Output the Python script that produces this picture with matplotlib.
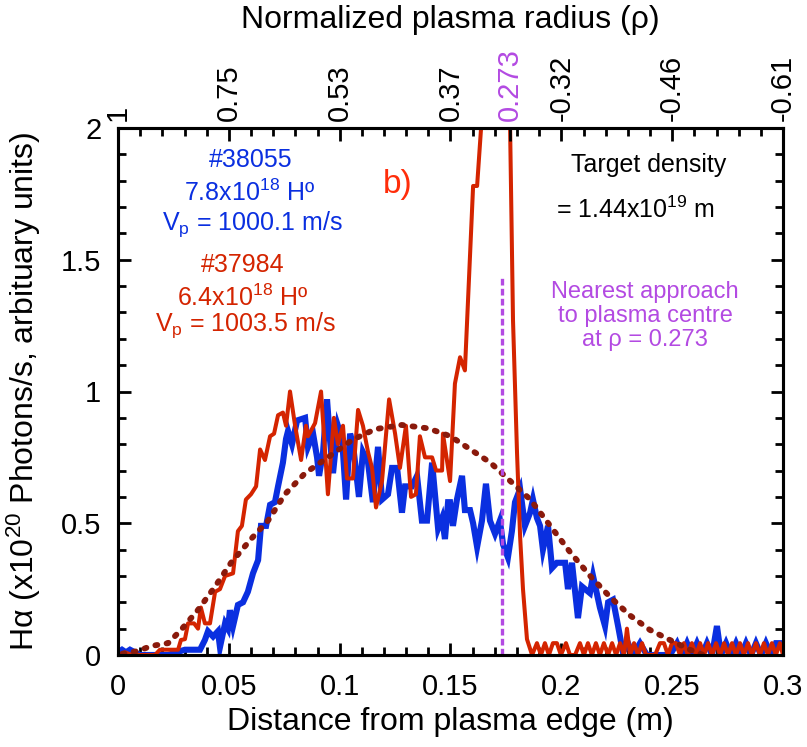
import matplotlib
matplotlib.use('Agg')
import matplotlib.pyplot as plt
from matplotlib.ticker import MultipleLocator, FixedLocator

plt.rcParams['font.family'] = ['Liberation Sans', 'DejaVu Sans']
plt.rcParams['mathtext.fontset'] = 'custom'
plt.rcParams['mathtext.rm'] = 'Liberation Sans'
plt.rcParams['mathtext.it'] = 'Liberation Sans:italic'
plt.rcParams['mathtext.bf'] = 'Liberation Sans:bold'

# ---------------- data ----------------
blue_points = [
    (0.0000, 0.01), (0.0018, 0.02), (0.0036, 0.01), (0.0054, 0.02), (0.0077, 0.01), (0.0099, 0.00),
    (0.0144, 0.00), (0.0189, 0.00), (0.0226, 0.00), (0.0262, 0.01), (0.0302, 0.02), (0.0347, 0.02),
    (0.0370, 0.02), (0.0392, 0.057), (0.0406, 0.09), (0.0429, 0.07), (0.0451, 0.09), (0.0460, 0.03),
    (0.0483, 0.12), (0.0496, 0.10), (0.0505, 0.17), (0.0519, 0.11), (0.0541, 0.19), (0.0564, 0.20),
    (0.0586, 0.24), (0.0609, 0.31), (0.0632, 0.36), (0.0645, 0.49), (0.0668, 0.49), (0.0686, 0.57),
    (0.0708, 0.58), (0.0722, 0.64), (0.0744, 0.73), (0.0758, 0.82), (0.0767, 0.85), (0.0785, 0.80),
    (0.0808, 0.89), (0.0844, 0.90), (0.0857, 0.79), (0.0880, 0.84), (0.0898, 0.75), (0.0907, 0.68),
    (0.0925, 0.77), (0.0943, 0.97), (0.0956, 0.82), (0.0970, 0.69), (0.0992, 0.87), (0.1011, 0.82),
    (0.1029, 0.59), (0.1047, 0.84), (0.1060, 0.80), (0.1087, 0.60), (0.1105, 0.77), (0.1128, 0.73),
    (0.1150, 0.58), (0.1173, 0.79), (0.1191, 0.59), (0.1218, 0.61), (0.1236, 0.71), (0.1259, 0.71),
    (0.1281, 0.54), (0.1295, 0.64), (0.1326, 0.64), (0.1349, 0.68), (0.1371, 0.51), (0.1394, 0.51),
    (0.1417, 0.73), (0.1444, 0.48), (0.1462, 0.52), (0.1475, 0.44), (0.1489, 0.58), (0.1498, 0.58),
    (0.1511, 0.49), (0.1529, 0.59), (0.1552, 0.68), (0.1565, 0.55), (0.1588, 0.55), (0.1602, 0.50),
    (0.1620, 0.41), (0.1642, 0.51), (0.1660, 0.65), (0.1678, 0.51), (0.1701, 0.46), (0.1723, 0.51),
    (0.1737, 0.42), (0.1759, 0.37), (0.1777, 0.47), (0.1791, 0.58), (0.1814, 0.63), (0.1836, 0.49),
    (0.1859, 0.54), (0.1872, 0.59), (0.1890, 0.52), (0.1904, 0.49), (0.1917, 0.40), (0.1940, 0.49),
    (0.1958, 0.33), (0.1980, 0.35), (0.2017, 0.35), (0.2030, 0.25), (0.2048, 0.35), (0.2075, 0.14),
    (0.2093, 0.26), (0.2129, 0.235), (0.2143, 0.30), (0.2174, 0.18), (0.2197, 0.11), (0.2211, 0.20),
    (0.2233, 0.21), (0.2256, 0.11), (0.2278, 0.01), (0.2301, 0.045), (0.2323, 0.00), (0.2355, 0.045),
    (0.2386, 0.00), (0.2445, 0.00), (0.2490, 0.00), (0.2522, 0.045), (0.2544, 0.00), (0.2567, 0.045),
    (0.2589, 0.00), (0.2612, 0.045), (0.2635, 0.00), (0.2657, 0.045), (0.2680, 0.00), (0.2702, 0.11),
    (0.2720, 0.00), (0.2743, 0.045), (0.2765, 0.00), (0.2788, 0.045), (0.2811, 0.00), (0.2833, 0.045),
    (0.2856, 0.00), (0.2878, 0.045), (0.2901, 0.00), (0.2923, 0.045), (0.2946, 0.00), (0.2968, 0.045),
    (0.2991, 0.045),
]

red_points = [
    (0.0000, 0.00), (0.0032, 0.01), (0.0063, 0.00), (0.0099, 0.00), (0.0135, 0.00), (0.0167, 0.00),
    (0.0189, 0.02), (0.0235, 0.02), (0.0271, 0.02), (0.0284, 0.057), (0.0302, 0.06), (0.0316, 0.12),
    (0.0343, 0.12), (0.0361, 0.10), (0.0374, 0.18), (0.0392, 0.12), (0.0415, 0.12), (0.0438, 0.24),
    (0.0460, 0.25), (0.0483, 0.30), (0.0519, 0.31), (0.0541, 0.47), (0.0559, 0.49), (0.0577, 0.59),
    (0.0600, 0.61), (0.0623, 0.64), (0.0641, 0.78), (0.0663, 0.74), (0.0686, 0.83), (0.0704, 0.84),
    (0.0722, 0.91), (0.0744, 0.92), (0.0758, 0.87), (0.0776, 1.00), (0.0799, 0.87), (0.0826, 0.74),
    (0.0848, 0.87), (0.0857, 0.83), (0.0889, 0.88), (0.0916, 1.00), (0.0947, 0.61), (0.0974, 0.90),
    (0.0992, 0.80), (0.1015, 0.87), (0.1033, 0.67), (0.1060, 0.67), (0.1083, 0.93), (0.1105, 0.87),
    (0.1128, 0.77), (0.1146, 0.71), (0.1164, 0.56), (0.1191, 0.66), (0.1223, 0.97), (0.1250, 0.84),
    (0.1272, 0.71), (0.1299, 0.87), (0.1322, 0.60), (0.1344, 0.61), (0.1362, 0.83), (0.1385, 0.75),
    (0.1417, 0.75), (0.1435, 0.70), (0.1462, 0.70), (0.1466, 0.84), (0.1498, 0.66), (0.1520, 1.03),
    (0.1543, 1.13), (0.1565, 1.08), (0.1597, 1.69), (0.1602, 1.78), (0.1620, 1.78), (0.1642, 2.05),
    (0.1670, 2.60), (0.1705, 2.90), (0.1745, 2.70), (0.1768, 2.05), (0.1782, 1.27), (0.1800, 0.77),
    (0.1814, 0.45), (0.1827, 0.25), (0.1845, 0.06), (0.1868, 0.00),
    (0.1890, 0.045), (0.1908, 0.00), (0.1926, 0.045), (0.1944, 0.00), (0.1962, 0.045), (0.1980, 0.045),
    (0.1998, 0.00), (0.2021, 0.045), (0.2039, 0.00), (0.2062, 0.00), (0.2084, 0.045), (0.2102, 0.00),
    (0.2120, 0.045), (0.2138, 0.00), (0.2156, 0.045), (0.2174, 0.00), (0.2192, 0.045), (0.2211, 0.00),
    (0.2229, 0.045), (0.2247, 0.00), (0.2265, 0.045), (0.2283, 0.00), (0.2296, 0.10), (0.2310, 0.00),
    (0.2328, 0.045), (0.2346, 0.00), (0.2364, 0.045), (0.2382, 0.00), (0.2400, 0.00), (0.2423, 0.00),
    (0.2445, 0.045), (0.2463, 0.045), (0.2481, 0.00), (0.2499, 0.045), (0.2517, 0.045), (0.2535, 0.00),
    (0.2553, 0.045), (0.2571, 0.00), (0.2589, 0.045), (0.2608, 0.00), (0.2626, 0.045), (0.2644, 0.00),
    (0.2662, 0.045), (0.2680, 0.00), (0.2698, 0.045), (0.2716, 0.00), (0.2734, 0.045), (0.2752, 0.00),
    (0.2770, 0.045), (0.2788, 0.00), (0.2806, 0.045), (0.2824, 0.00), (0.2842, 0.045), (0.2860, 0.00),
    (0.2878, 0.045), (0.2896, 0.00), (0.2914, 0.045), (0.2932, 0.00), (0.2950, 0.045), (0.2968, 0.00),
    (0.2986, 0.045), (0.3000, 0.00),
]

density_points = [
    (0.0020, 0.005), (0.0090, 0.015), (0.0149, 0.034), (0.0226, 0.045), (0.0284, 0.095),
    (0.0360, 0.17), (0.0438, 0.26), (0.0510, 0.35), (0.0600, 0.44), (0.0677, 0.51),
    (0.0753, 0.61), (0.0844, 0.69), (0.0947, 0.75), (0.1056, 0.816), (0.1160, 0.857),
    (0.1280, 0.873), (0.1400, 0.86), (0.1500, 0.83), (0.1590, 0.78), (0.1680, 0.73),
    (0.1770, 0.66), (0.1860, 0.59), (0.1950, 0.49), (0.2040, 0.39), (0.2130, 0.30),
    (0.2220, 0.22), (0.2310, 0.15), (0.2400, 0.095), (0.2490, 0.057), (0.2580, 0.02),
    (0.2640, 0.00),
]

approach_x = 0.1732
approach_top = 1.44

top_tick_pos = [0.0, 0.05, 0.10, 0.15, 0.177, 0.20, 0.25, 0.30]
top_tick_labels = ['1', '0.75', '0.53', '0.37', '0.273', '-0.32', '-0.46', '-0.61']

BLUE = '#0a2fe0'
RED = '#d42400'
BROWN = '#8a1a0c'
PURPLE = '#b34ae2'

# ---------------- figure ----------------
W, H = 807, 747
fig = plt.figure(figsize=(W / 100, H / 100), dpi=100)
ax = fig.add_axes([118 / W, 1 - 655 / H, (783 - 118) / W, (655 - 128) / H])

def fx(px):
    return px / W

def fy(py):
    return 1 - py / H

bx, by = zip(*blue_points)
rx, ry = zip(*red_points)
dx, dy = zip(*density_points)

ax.plot(bx, by, color=BLUE, lw=4.4, solid_joinstyle='miter', zorder=3)
ax.plot(rx, ry, color=RED, lw=2.9, zorder=4)
ax.plot(dx, dy, color=BROWN, lw=4.2, linestyle=(0, (0.35, 1.6)),
        dash_capstyle='round', zorder=5)
ax.plot([approach_x, approach_x], [0, approach_top], color=PURPLE, lw=2.4,
        linestyle=(0, (2.0, 1.0)), zorder=6)

ax.set_xlim(0, 0.3)
ax.set_ylim(0, 2)
ax.xaxis.set_major_locator(FixedLocator([0, 0.05, 0.1, 0.15, 0.2, 0.25, 0.3]))
ax.set_xticklabels(['0', '0.05', '0.1', '0.15', '0.2', '0.25', '0.3'])
ax.xaxis.set_minor_locator(MultipleLocator(0.01))
ax.set_yticks([0, 0.5, 1, 1.5, 2])
ax.set_yticklabels(['0', '0.5', '1', '1.5', '2'])
ax.yaxis.set_minor_locator(MultipleLocator(0.1))

ax.tick_params(which='both', direction='in', width=2.0, colors='black')
ax.tick_params(which='major', length=9)
ax.tick_params(which='minor', length=5.5)
ax.tick_params(axis='x', which='both', bottom=True, top=False, labelsize=21, pad=13)
ax.tick_params(axis='y', which='both', left=True, right=True, labelsize=21, pad=12)
for s in ax.spines.values():
    s.set_linewidth(2.2)

ax2 = ax.twiny()
ax2.set_xlim(ax.get_xlim())
ax2.set_xticks(top_tick_pos)
ax2.set_xticklabels(top_tick_labels, rotation=90)
ax2.xaxis.set_minor_locator(MultipleLocator(0.01))
ax2.tick_params(which='both', direction='in', width=2.0)
ax2.tick_params(which='major', length=9, labelsize=21, pad=5)
ax2.tick_params(which='minor', length=5.5)
for lab in ax2.get_xticklabels():
    if lab.get_text() == '0.273':
        lab.set_color(PURPLE)
for s in ax2.spines.values():
    s.set_linewidth(2.2)

# axis titles
fig.text(fx(450), fy(20), 'Normalized plasma radius (ρ)', ha='center', va='center', fontsize=23)
fig.text(fx(450), fy(722), 'Distance from plasma edge (m)', ha='center', va='center', fontsize=23)
fig.text(fx(24), fy(391), r'Hα (x10$^{20}$ Photons/s, arbituary units)',
         ha='center', va='center', rotation=90, fontsize=23)

# annotations
fig.text(fx(251), fy(160), '#38055', color=BLUE, ha='center', va='center', fontsize=18)
fig.text(fx(250), fy(193), r'7.8x10$^{18}$ Hº', color=BLUE, ha='center', va='center', fontsize=18)
fig.text(fx(252), fy(224), r'V$_\mathrm{p}$ = 1000.1 m/s', color=BLUE, ha='center', va='center', fontsize=18)
fig.text(fx(243), fy(265), '#37984', color=RED, ha='center', va='center', fontsize=18)
fig.text(fx(243), fy(298), r'6.4x10$^{18}$ Hº', color=RED, ha='center', va='center', fontsize=18)
fig.text(fx(245), fy(325), r'V$_\mathrm{p}$ = 1003.5 m/s', color=RED, ha='center', va='center', fontsize=18)
fig.text(fx(398), fy(185), 'b)', color='#ff2d0a', ha='center', va='center', fontsize=24)

fig.text(fx(649), fy(165), 'Target density', color='black', ha='center', va='center', fontsize=18)
fig.text(fx(635), fy(210), r'= 1.44x10$^{19}$ m', color='black', ha='center', va='center', fontsize=18)

fig.text(fx(645), fy(292), 'Nearest approach', color=PURPLE, ha='center', va='center', fontsize=17)
fig.text(fx(645), fy(316), 'to plasma centre', color=PURPLE, ha='center', va='center', fontsize=17)
fig.text(fx(645), fy(340), 'at ρ = 0.273', color=PURPLE, ha='center', va='center', fontsize=17)

fig.savefig('out.png', dpi=100)
